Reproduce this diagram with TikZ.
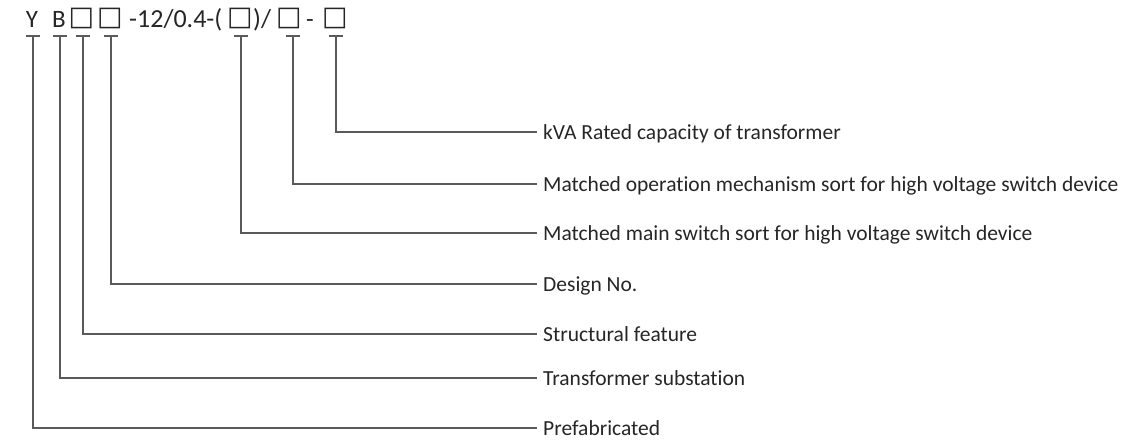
\documentclass[tikz,border=0pt]{standalone}
\usepackage{fontspec}
\setmainfont[Ligatures={NoCommon,NoRare}]{Carlito}
\newfontfamily\symfont{DejaVu Sans}
\definecolor{txt}{HTML}{262626}
\definecolor{ln}{HTML}{5A5A5A}
\begin{document}
\begin{tikzpicture}[x=1pt,y=-1pt,
  code/.style={inner sep=0pt, anchor=base, text=txt, font=\fontsize{25}{25}\selectfont},
  sq/.style={inner sep=0pt, anchor=base, text=txt, font=\fontsize{27}{27}\symfont},
  lab/.style={inner sep=0pt, anchor=base west, text=txt, font=\fontsize{21.5}{21.5}\selectfont},
  lead/.style={draw=ln, line width=1.1pt}]
\useasboundingbox (0,0) rectangle (1138,441);
% code string
\node[code] (cY) at (32,28) {Y};
\node[code] (cB) at (59,28) {B};
\node[sq]   (c1) at (81.5,26) {□};
\node[sq]   (c2) at (110,26) {□};
\node[code,anchor=base west,font=\fontsize{26}{26}\selectfont] (cm) at (129,28) {-12/0.4-(};
\node[sq]   (c3) at (240,26) {□};
\node[code,anchor=base west,font=\fontsize{26}{26}\selectfont] (cp) at (253,28) {)/};
\node[sq]   (c4) at (289,26) {□};
\node[code] (cd) at (310,28) {-};
\node[sq]   (c5) at (335,26) {□};
% leaders
\foreach \n/\x/\y/\t in {
  Y/33/428/Prefabricated,
  B/60/378/Transformer substation,
  1/83/334/Structural feature,
  2/111/284/Design No.,
  3/241/233/Matched main switch sort for high voltage switch device,
  4/293/184/Matched operation mechanism sort for high voltage switch device,
  5/336/132/kVA Rated capacity of transformer}{
  \coordinate (t\n) at (\x,36);
  \coordinate (k\n) at (\x,\y);
  \coordinate (e\n) at (537,\y);
  \node[lab] (l\n) at (543,\y+7.5) {\t};
  \draw[lead] ([xshift=-7pt]t\n) -- ([xshift=7pt]t\n);
  \draw[lead] (t\n) -- (k\n) -- (e\n);
}
\end{tikzpicture}
\end{document}
